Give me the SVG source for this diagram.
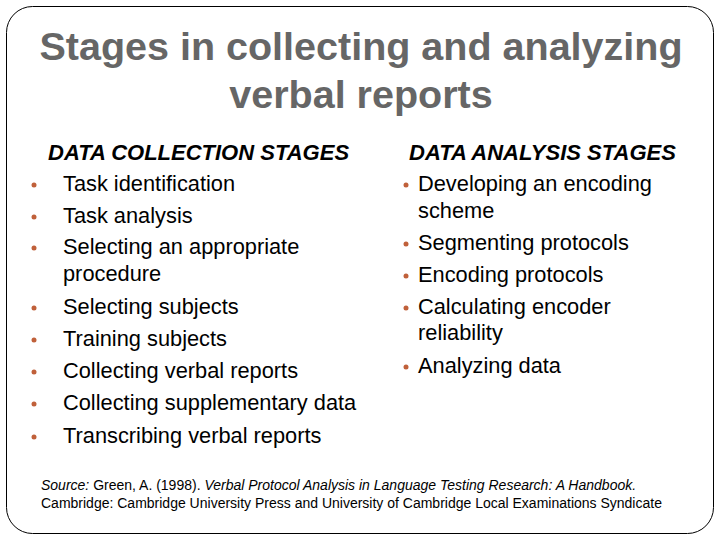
<svg xmlns="http://www.w3.org/2000/svg" width="720" height="540" viewBox="0 0 720 540">
<style>
text{font-family:"Liberation Sans",Arial,sans-serif;fill:#000}
.t{font-size:39.500px;font-weight:bold;fill:#666;text-anchor:middle}
.h{font-size:22px;font-weight:bold;font-style:italic}
.i{font-size:21.800px}
.s{font-size:14px}
.b{fill:#c0603a}
</style>
<rect width="720" height="540" fill="#fff"/>
<rect x="6.500" y="6.500" width="707" height="527" rx="26" fill="none" stroke="#000" stroke-width="1"/>
<text class="t" x="361" y="60">Stages in collecting and analyzing</text>
<text class="t" x="361" y="108">verbal reports</text>
<g id="left">
<text class="h" x="48" y="160">DATA COLLECTION STAGES</text>
<g class="b"><circle cx="34" cy="185" r="2.500"/><circle cx="34" cy="217" r="2.500"/><circle cx="34" cy="248" r="2.500"/><circle cx="34" cy="308" r="2.500"/><circle cx="34" cy="340" r="2.500"/><circle cx="34" cy="372" r="2.500"/><circle cx="34" cy="404" r="2.500"/><circle cx="34" cy="437" r="2.500"/></g>
<text class="i" x="63" y="191">Task identification</text>
<text class="i" x="63" y="223">Task analysis</text>
<text class="i" x="63" y="254">Selecting an appropriate</text>
<text class="i" x="63" y="281">procedure</text>
<text class="i" x="63" y="314">Selecting subjects</text>
<text class="i" x="63" y="346">Training subjects</text>
<text class="i" x="63" y="378">Collecting verbal reports</text>
<text class="i" x="63" y="410">Collecting supplementary data</text>
<text class="i" x="63" y="443">Transcribing verbal reports</text>
</g>
<g id="right">
<text class="h" x="409" y="160">DATA ANALYSIS STAGES</text>
<g class="b"><circle cx="406" cy="185" r="2.500"/><circle cx="406" cy="244" r="2.500"/><circle cx="406" cy="276" r="2.500"/><circle cx="406" cy="308" r="2.500"/><circle cx="406" cy="367" r="2.500"/></g>
<text class="i" x="418" y="191">Developing an encoding</text>
<text class="i" x="418" y="218">scheme</text>
<text class="i" x="418" y="250">Segmenting protocols</text>
<text class="i" x="418" y="282">Encoding protocols</text>
<text class="i" x="418" y="314">Calculating encoder</text>
<text class="i" x="418" y="340">reliability</text>
<text class="i" x="418" y="373">Analyzing data</text>
</g>
<text class="s" x="41" y="490"><tspan font-style="italic">Source:</tspan> Green, A. (1998). <tspan font-style="italic">Verbal Protocol Analysis in Language Testing Research: A Handbook.</tspan></text>
<text class="s" x="41" y="508">Cambridge: Cambridge University Press and University of Cambridge Local Examinations Syndicate</text>
</svg>
